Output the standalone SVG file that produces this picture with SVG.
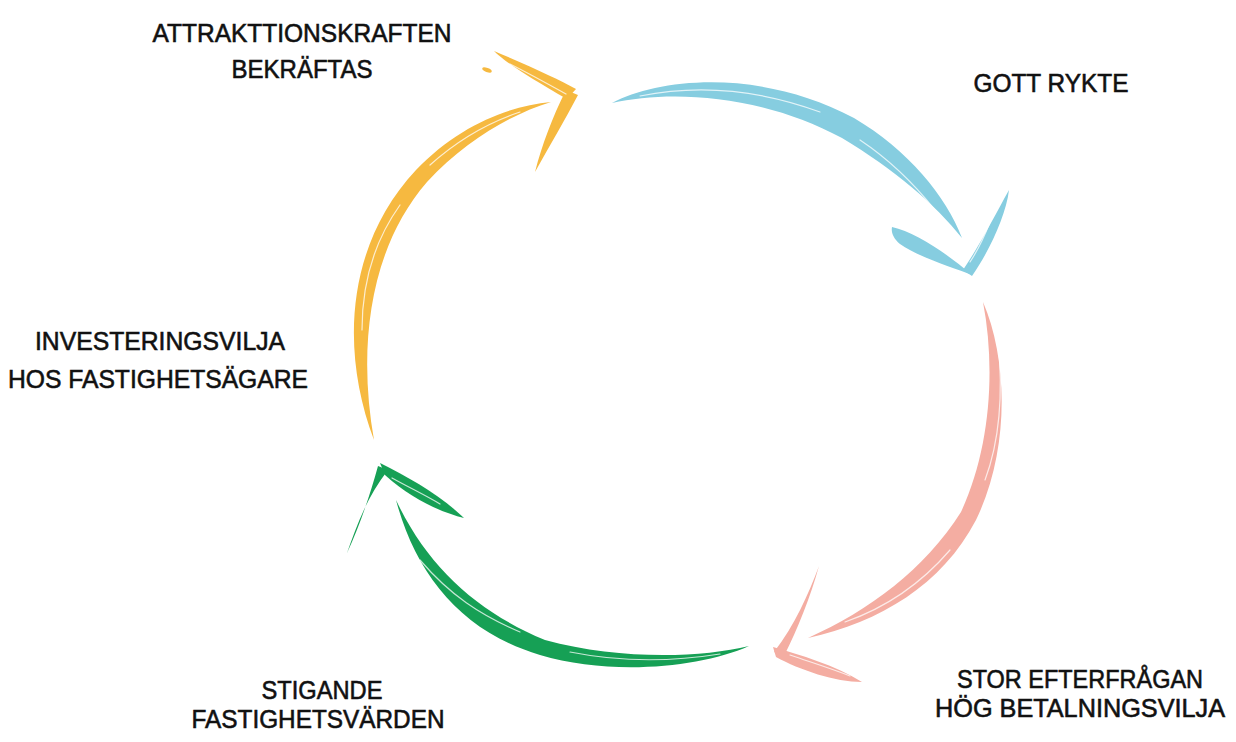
<svg xmlns="http://www.w3.org/2000/svg" width="1236" height="742" viewBox="0 0 1236 742">
<style>
.lbl{font-family:"Liberation Sans","DejaVu Sans",sans-serif;font-size:26px;fill:#111;stroke:#111;stroke-width:0.6;text-anchor:middle}
.streak{fill:none;stroke:#fff;stroke-width:1.2;stroke-linecap:round;opacity:0.75}
.y{fill:#F6B940}.b{fill:#86CDE0}.p{fill:#F4ADA2}.g{fill:#16A055}
</style>
<rect width="1236" height="742" fill="#fff"/>
<g id="connectors">
  <g id="arrow-yellow">
    <path class="y" d="M374,440 C340,350 346,245 416,170 C458,126 508,106 551,102 C512,114 466,140 427,182 C368,250 358,350 374,440 Z"/>
    <path class="y" d="M576,89 C560,80 530,66 494,51 C505,62 530,78 567,99 Z"/>
    <path class="y" d="M566,90 L578,95 C565,120 550,145 535,172 C542,145 552,118 566,90 Z"/>
    <ellipse class="y" cx="487" cy="70" rx="5" ry="2" transform="rotate(20 487 70)"/>
    <path class="streak" d="M362,330 C362,280 375,240 400,205"/>
    <path class="streak" d="M430,165 C460,138 490,122 520,112"/>
    <path class="streak" d="M510,64 C530,74 548,84 566,94"/>
  </g>
  <g id="arrow-blue">
    <path class="b" d="M612,103 C660,78 760,68 854,118 C908,150 946,196 962,238 C935,204 895,170 842,138 C760,94 670,90 612,103 Z"/>
    <path class="b" d="M892,227 C915,232 945,252 972,275 C955,268 920,258 900,244 C893,238 891,232 892,227 Z"/>
    <path class="b" d="M1009,190 C1006,215 990,250 972,276 L963,270 C980,245 995,215 1009,190 Z"/>
    <path class="streak" d="M640,96 C700,84 760,90 820,112"/>
    <path class="streak" d="M860,140 C890,160 915,185 935,210"/>
    <path class="streak" d="M990,222 C985,235 978,250 970,262"/>
  </g>
  <g id="arrow-pink">
    <path class="p" d="M983,302 C1008,360 1010,450 976,520 C942,585 880,622 808,638 C870,610 924,570 961,512 C990,450 996,370 983,302 Z"/>
    <path class="p" d="M819,566 C808,595 795,625 774,652 L784,656 C798,628 810,598 819,566 Z"/>
    <path class="p" d="M773,647 C800,655 835,665 862,682 C835,682 800,670 776,657 Z"/>
    <path class="streak" d="M998,340 C1003,390 1000,440 985,480"/>
    <path class="streak" d="M950,550 C920,585 885,608 845,622"/>
    <path class="streak" d="M790,655 C810,662 830,668 850,676"/>
  </g>
  <g id="arrow-green">
    <path class="g" d="M749,646 C700,668 610,676 540,655 C462,632 416,575 396,500 C428,568 478,612 545,640 C618,660 700,658 749,646 Z"/>
    <path class="g" d="M378,466 C370,495 360,525 347,553 C356,528 366,498 388,470 Z"/>
    <path class="g" d="M380,463 C410,478 440,495 464,518 C440,512 410,498 385,475 Z"/>
    <path class="streak" d="M420,560 C450,595 480,615 520,632"/>
    <path class="streak" d="M570,652 C620,662 670,662 720,654"/>
    <path class="streak" d="M392,478 C410,488 425,495 440,504"/>
  </g>
</g>
<g id="node-attraktion">
  <text class="lbl" x="302" y="42" textLength="299" lengthAdjust="spacingAndGlyphs">ATTRAKTTIONSKRAFTEN</text>
  <text class="lbl" x="302" y="78" textLength="141" lengthAdjust="spacingAndGlyphs">BEKRÄFTAS</text>
</g>
<g id="node-gott-rykte">
  <text class="lbl" x="1051" y="92" textLength="155" lengthAdjust="spacingAndGlyphs">GOTT RYKTE</text>
</g>
<g id="node-stor-efterfragan">
  <text class="lbl" x="1080" y="688" textLength="246" lengthAdjust="spacingAndGlyphs">STOR EFTERFRÅGAN</text>
  <text class="lbl" x="1080" y="717" textLength="290" lengthAdjust="spacingAndGlyphs">HÖG BETALNINGSVILJA</text>
</g>
<g id="node-stigande">
  <text class="lbl" x="322" y="699" textLength="121" lengthAdjust="spacingAndGlyphs">STIGANDE</text>
  <text class="lbl" x="318" y="728" textLength="253" lengthAdjust="spacingAndGlyphs">FASTIGHETSVÄRDEN</text>
</g>
<g id="node-investeringsvilja">
  <text class="lbl" x="160" y="350" textLength="250" lengthAdjust="spacingAndGlyphs">INVESTERINGSVILJA</text>
  <text class="lbl" x="158" y="388" textLength="300" lengthAdjust="spacingAndGlyphs">HOS FASTIGHETSÄGARE</text>
</g>
</svg>
